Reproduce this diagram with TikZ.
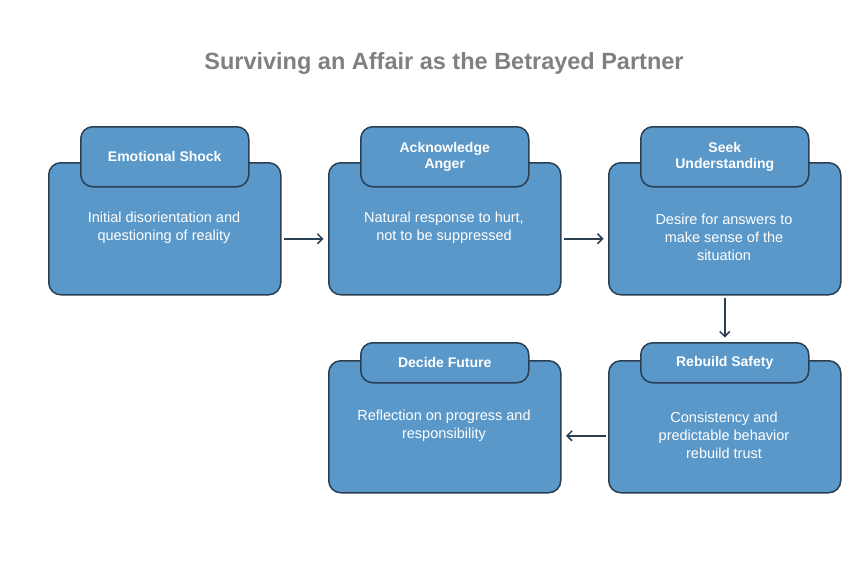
\documentclass[tikz,border=0pt]{standalone}
\usepackage{fontspec}
\setmainfont{Liberation Sans}
\usetikzlibrary{arrows.meta}
\definecolor{bfill}{HTML}{5A98C9}
\definecolor{bdraw}{HTML}{2B3F52}
\definecolor{tgray}{HTML}{808080}
\begin{document}
\begin{tikzpicture}[x=1pt,y=-1pt,
 box/.style={draw=bdraw,line width=1.5pt,fill=bfill,rounded corners=12pt,minimum width=232pt,minimum height=132pt,anchor=north west},
 txt/.style={text=white,font=\fontsize{14.5}{18}\selectfont,align=center},
 tab/.style={draw=bdraw,line width=1.5pt,fill=bfill,rounded corners=12pt,minimum width=168pt,text=white,font=\bfseries\fontsize{14}{16}\selectfont,align=center,anchor=north west},
 arr/.style={-{Straight Barb[length=5pt,width=10pt]},draw=bdraw,line width=1.5pt}]
\useasboundingbox (0,0) rectangle (864,582);
\node[font=\bfseries\fontsize{23.5}{26}\selectfont,text=tgray] (title) at (444,63) {Surviving an Affair as the Betrayed Partner};
\node[box] (b1) at (48,162) {}; \node[txt] (t1) at (164,228) {Initial disorientation and\\questioning of reality};
\node[tab,minimum height=60pt] (h1) at (80,126) {Emotional Shock};
\node[box] (b2) at (328,162) {}; \node[txt] (t2) at (444,228) {Natural response to hurt,\\not to be suppressed};
\node[tab,minimum height=60pt] (h2) at (360,126) {Acknowledge\\Anger};
\node[box] (b3) at (608,162) {}; \node[txt] (t3) at (724,237) {Desire for answers to\\make sense of the\\situation};
\node[tab,minimum height=60pt] (h3) at (640,126) {Seek\\Understanding};
\node[box] (b4) at (608,360) {}; \node[txt] (t4) at (724,435) {Consistency and\\predictable behavior\\rebuild trust};
\node[tab,minimum height=40pt] (h4) at (640,342) {Rebuild Safety};
\node[box] (b5) at (328,360) {}; \node[txt] (t5) at (444,426) {Reflection on progress and\\responsibility};
\node[tab,minimum height=40pt] (h5) at (360,342) {Decide Future};
\draw[arr] (b1.east)++(2,10) -- ++(40,0);
\draw[arr] (b2.east)++(2,10) -- ++(40,0);
\draw[arr] (b3.south)++(0,2) -- ++(0,40);
\draw[arr] (b4.west)++(-2,9) -- ++(-40,0);
\end{tikzpicture}
\end{document}
